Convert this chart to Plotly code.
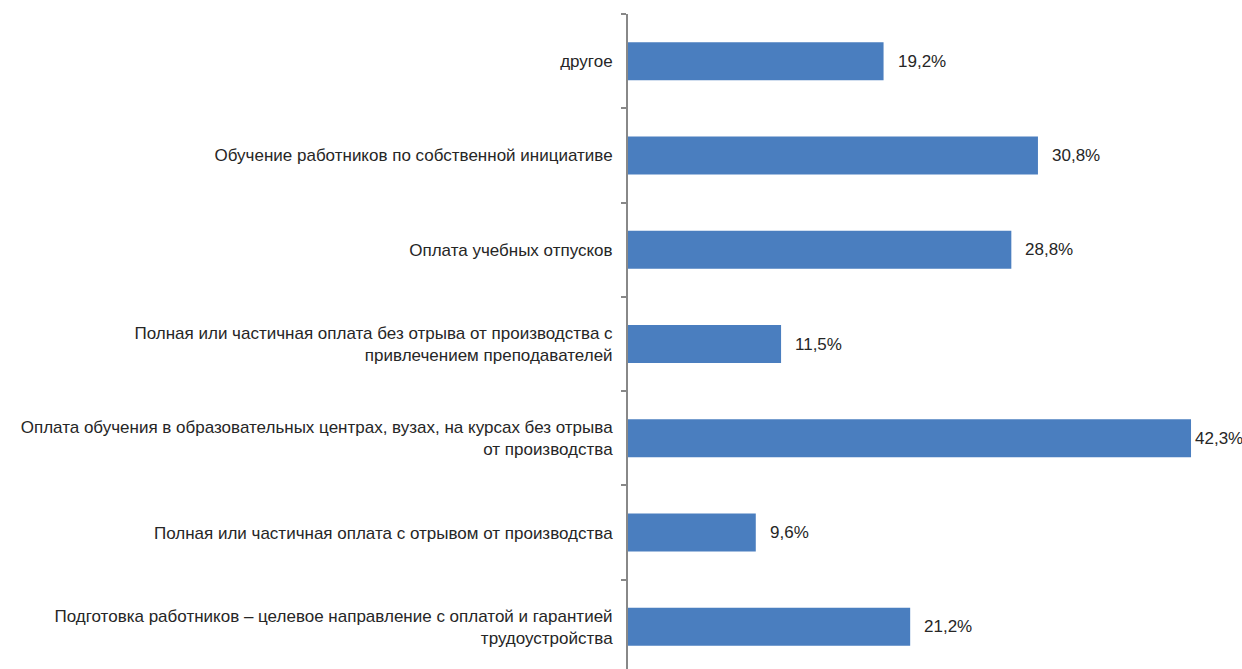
import plotly.graph_objects as go

categories = [
    "Подготовка работников – целевое направление с оплатой и гарантией<br>трудоустройства",
    "Полная или частичная оплата с отрывом от производства",
    "Оплата обучения в образовательных центрах, вузах, на курсах без отрыва<br>от производства",
    "Полная или частичная оплата без отрыва от производства с<br>привлечением преподавателей",
    "Оплата учебных отпусков",
    "Обучение работников по собственной инициативе",
    "другое",
]
values = [21.2, 9.6, 42.3, 11.5, 28.8, 30.8, 19.2]
value_labels = ["21,2%", "9,6%", "42,3%", "11,5%", "28,8%", "30,8%", "19,2%"]
label_shift = [12, 12, 2, 12, 12, 12, 12]

FONT = "Liberation Sans, Arial, sans-serif"
TXT = "#262626"

fig = go.Figure(go.Bar(
    x=values, y=categories, orientation="h",
    marker=dict(color="#4a7ebf", line=dict(width=0)),
    hoverinfo="skip",
))

for v, c, t, s in zip(values, categories, value_labels, label_shift):
    fig.add_annotation(x=v, y=c, text=t, showarrow=False, xanchor="left",
                       xshift=s, font=dict(family=FONT, size=17, color=TXT))

fig.update_layout(
    width=1242, height=669,
    margin=dict(l=628, r=0, t=14, b=0, autoexpand=False),
    paper_bgcolor="white", plot_bgcolor="white",
    bargap=0.597, showlegend=False,
    font=dict(family=FONT, size=17, color=TXT),
    xaxis=dict(range=[0, 46.13], visible=False, showgrid=False, zeroline=False,
               automargin=False),
    yaxis=dict(
        type="category", categoryorder="array", categoryarray=categories,
        range=[-0.447, 6.5], automargin=False,
        showline=True, linecolor="#888888", linewidth=2,
        ticks="outside", tickson="boundaries", ticklen=5, tickcolor="#888888", tickwidth=1.5,
        showgrid=False, zeroline=False,
        ticklabelstandoff=10,
        tickfont=dict(family=FONT, size=17, color=TXT),
    ),
)

fig.write_html(
    "out.html",
    config={"displayModeBar": False},
    post_script="document.body.style.margin='0';document.body.style.overflow='hidden';",
)
